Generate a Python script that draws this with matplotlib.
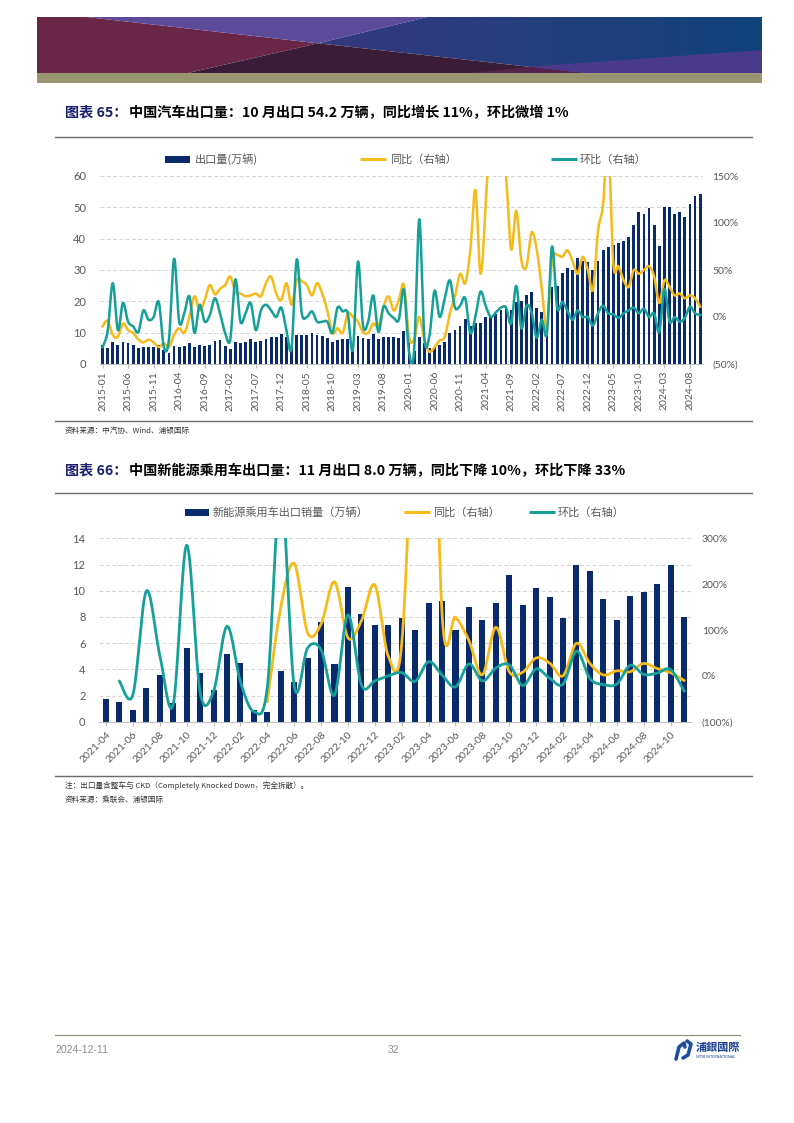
import numpy as np
import matplotlib
matplotlib.use("Agg")
import matplotlib.pyplot as plt
from matplotlib.patches import Polygon, Rectangle
from matplotlib.ticker import FuncFormatter

plt.rcParams['font.family'] = ['Lato', 'Noto Sans CJK SC', 'DejaVu Sans']
CJK = ['Noto Sans CJK SC', 'DejaVu Sans']

NAVY = '#0A2A6E'
YELLOW = '#F6BA1B'
TEAL = '#16A09A'
GREY = '#595959'

# ---------------- chart 65: China auto exports, 2015-01 .. 2024-10 ----------------
months1 = [f"{2015 + k // 12}-{k % 12 + 1:02d}" for k in range(118)]
export_vol = [
    6.0, 5.0, 7.0, 6.1, 7.0, 6.7, 6.0, 5.2, 5.5, 5.5, 5.5, 6.2,
    4.4, 3.6, 5.7, 5.4, 5.7, 6.7, 5.5, 6.2, 5.9, 6.1, 7.4, 7.8,
    5.8, 4.8, 6.9, 6.8, 7.0, 7.9, 6.9, 7.4, 8.0, 8.6, 8.6, 9.5,
    8.7, 5.6, 9.1, 9.2, 9.3, 9.8, 9.3, 8.8, 8.4, 7.1, 7.6, 7.9,
    8.1, 5.7, 9.0, 8.4, 8.0, 9.5, 8.0, 8.7, 8.7, 8.5, 8.2, 10.5,
    6.8, 4.3, 8.7, 6.6, 5.0, 5.5, 6.1, 7.1, 9.8, 10.9, 12.1, 14.4,
    12.2, 13.0, 13.2, 14.9, 15.3, 16.0, 17.2, 17.8, 17.2, 19.7, 20.1, 22.0,
    22.9, 17.8, 16.7, 12.5, 24.7, 25.0, 29.0, 30.5, 30.0, 33.7, 32.9, 32.6,
    30.0, 32.9, 36.4, 37.4, 38.0, 38.7, 39.4, 40.6, 44.4, 48.6, 48.0, 49.7,
    44.4, 37.7, 50.2, 50.2, 48.0, 48.4, 46.8, 51.0, 53.7, 54.2,
]
yoy1 = [
    -10, -4, -19, -21, -7, -14, -17, -24, -27, -24, -27, -32,
    -28, -32, -19, -12, -17, 0, 22, 7, 18, 34, 24, 30,
    34, 43, 27, 25, 22, 23, 25, 22, 36, 43, 25, 18,
    36, 13, 39, 38, 34, 23, 36, 25, 7, -17, -12, -17,
    4, 0, -5, -16, -17, -7, -10, 11, 22, 7, 18, 34,
    -21, -24, 0, -24, -37, -32, -25, -21, 4, 22, 46, 36,
    71, 135, 46, 117, 220, 240, 190, 150, 72, 113, 60, 54,
    90, 72, 30, -12, 61, 66, 64, 71, 60, 46, 64, 50,
    29, 91, 120, 190, 57, 54, 39, 32, 50, 46, 50, 54,
    43, 15, 39, 32, 23, 25, 20, 23, 20, 11,
]
mom1 = [
    -32, -15, 36, -14, 15, -5, -10, -16, 7, -3, 0, 16,
    -32, -24, 62, -5, 4, 22, -17, 13, -5, 2, 20, 4,
    -17, -24, 40, -5, 4, 15, -14, 7, 13, 7, 0, 10,
    -14, -33, 61, 4, 0, 6, -5, -5, -5, -17, 10, 6,
    4, -35, 59, -9, -5, 23, -16, 11, 4, -1, -3, 29,
    -37, -36, 104, -22, -20, 28, 0, 20, 39, 10, 12, 20,
    -17, 0, 27, 12, 0, 5, 10, 10, -7, 33, -12, 12,
    5, -22, -3, -17, 75, 10, 16, 7, -3, 7, 0, 0,
    -9, 4, 12, 4, 3, -1, 4, 7, 10, 4, 9, 0,
    4, -16, 30, -5, 0, -5, -1, 11, 4, 2,
]

# ---------------- chart 66: NEV passenger car exports, 2021-04 .. 2024-11 ----------------
months2 = [f"{2021 + (k + 3) // 12}-{(k + 3) % 12 + 1:02d}" for k in range(44)]
nev_vol = [
    1.7, 1.5, 0.9, 2.55, 3.6, 1.4, 5.65, 3.7, 2.4,
    5.2, 4.5, 0.9, 0.76, 3.87, 3.05, 4.9, 7.6, 4.4, 10.25, 8.2, 7.4,
    7.4, 7.9, 7.0, 9.08, 9.2, 7.0, 8.78, 7.8, 9.08, 11.2, 8.88, 10.18,
    9.5, 7.9, 12.0, 11.5, 9.36, 7.8, 9.6, 9.92, 10.5, 12.0, 8.0,
]
yoy2 = [np.nan] * 12 + [
    -56, 150, 245, 94, 113, 205, 83, 120, 198, 43, 70,
    680, 1090, 136, 128, 77, 2, 106, 9, 8, 39,
    28, 0, 71, 27, 2, 11, 9, 27, 16, 7, -10,
]
mom2 = [np.nan, -12, -41, 185, 45, -62, 285, -36, -34, 108, -13, -78,
        -25, 409, -22, 61, 57, -42, 133, -20, -11, 0, 7,
        -12, 31, 2, -24, 26, -11, 17, 24, -21, 15, -5, -18, 54,
        -6, -19, -18, 23, 3, 6, 14, -33]


def smooth(xs, ys, n=16):
    xs = np.asarray(xs, float)
    ys = np.asarray(ys, float)
    ok = ~np.isnan(ys)
    pts = np.column_stack([xs[ok], ys[ok]])
    out = []
    t = np.linspace(0, 1, n, endpoint=False)[:, None]
    for k in range(len(pts) - 1):
        p0 = pts[k - 1] if k > 0 else pts[k]
        p1, p2 = pts[k], pts[k + 1]
        p3 = pts[k + 2] if k + 2 < len(pts) else pts[k + 1]
        seg = 0.5 * (2 * p1 + (-p0 + p2) * t + (2 * p0 - 5 * p1 + 4 * p2 - p3) * t ** 2
                     + (-p0 + 3 * p1 - 3 * p2 + p3) * t ** 3)
        out.append(seg)
    out.append(pts[-1:])
    a = np.vstack(out)
    return a[:, 0], a[:, 1]


def pct(v, _):
    return f"({abs(v):.0f}%)" if v < 0 else f"{v:.0f}%"


def style_axes(ax, axr):
    for s in ['top', 'left', 'right']:
        ax.spines[s].set_visible(False)
        axr.spines[s].set_visible(False)
    axr.spines['bottom'].set_visible(False)
    ax.spines['bottom'].set_color('#bfbfbf')
    ax.yaxis.grid(True, ls=(0, (4, 2.5)), color='#d4d4d4', lw=0.7)
    ax.set_axisbelow(True)
    ax.set_facecolor('none')
    axr.yaxis.set_major_formatter(FuncFormatter(pct))


fig = plt.figure(figsize=(7.94, 11.23), dpi=100)

# page layer
pg = fig.add_axes([0, 0, 1, 1], zorder=0)
pg.set_xlim(0, 794)
pg.set_ylim(1123, 0)
pg.axis('off')

# header banner
C = (318, 43.3)
pg.add_patch(Polygon([(37, 17), (86.5, 17), C, (188, 73), (37, 73)], closed=True, color='#6a2647', lw=0))
pg.add_patch(Polygon([(86.5, 17), (427.5, 17), C], closed=True, color='#5c4a9b', lw=0))
right = Polygon([(427.5, 17), (762, 17), (762, 73), (585, 73), C], closed=True, color='none', lw=0)
pg.add_patch(right)
grad = pg.imshow(np.linspace(0, 1, 256)[None, :], extent=[318, 762, 73, 17], aspect='auto',
                 cmap=matplotlib.colors.LinearSegmentedColormap.from_list('b', ['#36397f', '#10437b']),
                 zorder=1)
grad.set_clip_path(right)
pg.add_patch(Polygon([C, (585, 73), (188, 73)], closed=True, color='#3b1c37', lw=0, zorder=2))
pg.add_patch(Polygon([(470, 73), (585, 73), (529, 66.7)], closed=True, color='#55224a', lw=0, zorder=2))
pg.add_patch(Polygon([(529, 66.7), (762, 50), (762, 73), (585, 73)], closed=True, color='#4a3a8c', lw=0, zorder=2))
pg.add_patch(Rectangle((37, 73), 725, 10, color='#9a9571', lw=0))

# titles and rules
for y, num, rest in [(113, "图表 65：", "中国汽车出口量：10 月出口 54.2 万辆，同比增长 11%，环比微增 1%"),
                     (470, "图表 66：", "中国新能源乘用车出口量：11 月出口 8.0 万辆，同比下降 10%，环比下降 33%")]:
    pg.text(65, y, num, color='#1b1f6e', fontsize=10.2, fontweight='bold', va='center', family=CJK)
    pg.text(129, y, rest, color='black', fontsize=10.2, fontweight='bold', va='center', family=CJK)
for y in [137, 421, 493, 776]:
    pg.plot([55, 752], [y, y], color='#6a6a6a', lw=1)

pg.text(65, 431, "资料来源：中汽协、Wind、浦银国际", fontsize=5.5, color='#333333', va='center', family=CJK)
pg.text(65, 786, "注：出口量含整车与 CKD（Completely Knocked Down，完全拆散）。", fontsize=5.5,
        color='#333333', va='center', family=CJK)
pg.text(65, 800, "资料来源：乘联会、浦银国际", fontsize=5.5, color='#333333', va='center', family=CJK)

# legends
def legend_row(y, items):
    for kind, x0, x1, tx, label in items:
        if kind == 'bar':
            pg.add_patch(Rectangle((x0, y - 3.5), x1 - x0, 7, color=NAVY, lw=0))
        else:
            pg.plot([x0, x1], [y, y], color=kind, lw=2.2, solid_capstyle='butt')
        pg.text(tx, y, label, fontsize=8, color=GREY, va='center', family=CJK)


legend_row(159, [('bar', 165, 190, 195, "出口量(万辆)"),
                 (YELLOW, 360, 386, 390, "同比（右轴）"),
                 (TEAL, 551, 577, 580, "环比（右轴）")])
legend_row(512, [('bar', 185, 209, 213, "新能源乘用车出口销量（万辆）"),
                 (YELLOW, 404, 430, 433, "同比（右轴）"),
                 (TEAL, 529, 555, 558, "环比（右轴）")])

# footer
pg.plot([55, 740], [1035, 1035], color='#8f8b73', lw=0.8)
pg.text(55, 1050, "2024-12-11", fontsize=7.5, color='#8c8c8c', va='center', family=['Liberation Sans Narrow', 'Liberation Sans'])
pg.text(393, 1050, "32", fontsize=7.5, color='#8c8c8c', va='center', ha='center', family=['Liberation Sans Narrow', 'Liberation Sans'])
pg.plot([676, 679, 684, 685], [1059, 1047, 1043, 1047], color='#1f4e9a', lw=2.6, solid_capstyle='round')
pg.plot([683, 688, 691, 687], [1058, 1055, 1044, 1041], color='#1f4e9a', lw=2.6, solid_capstyle='round')
pg.text(696, 1047, "浦銀國際", fontsize=8, color='#1d3f8f', va='center', fontweight='bold',
        family=['Noto Sans CJK TC', 'DejaVu Sans'])
pg.text(696, 1056.5, "SPDB INTERNATIONAL", fontsize=2.6, color='#1d3f8f', va='center')

# ---------------- chart 65 axes ----------------
ax1 = fig.add_axes([100 / 794, 1 - 364 / 1123, 602.7 / 794, 188 / 1123], zorder=2)
x1 = np.arange(len(export_vol))
ax1.bar(x1, export_vol, width=0.55, color=NAVY, zorder=2)
ax1.set_xlim(-0.5, len(export_vol) - 0.5)
ax1.set_ylim(0, 60)
ax1.set_yticks(range(0, 61, 10))
ax1.set_xticks(x1[::5])
ax1.set_xticklabels(months1[::5], rotation=90, fontsize=7.5, color=GREY)
ax1.tick_params(axis='x', length=3, color='#bfbfbf', pad=2)
ax1.tick_params(axis='y', length=0, pad=10, labelsize=8, labelcolor=GREY)
ax1r = ax1.twinx()
ax1r.set_ylim(-50, 150)
ax1r.set_yticks(range(-50, 151, 50))
ax1r.tick_params(axis='y', length=0, pad=7, labelsize=7.5, labelcolor=GREY)
style_axes(ax1, ax1r)
sx, sy = smooth(x1, yoy1)
ax1r.plot(sx, sy, color=YELLOW, lw=1.8, zorder=3)
sx, sy = smooth(x1, mom1)
ax1r.plot(sx, sy, color=TEAL, lw=1.8, zorder=4)

# ---------------- chart 66 axes ----------------
ax2 = fig.add_axes([99.3 / 794, 1 - 721.7 / 1123, 591.4 / 794, 183.4 / 1123], zorder=2)
x2 = np.arange(len(nev_vol))
ax2.bar(x2, nev_vol, width=0.45, color=NAVY, zorder=2)
ax2.set_xlim(-0.5, len(nev_vol) - 0.5)
ax2.set_ylim(0, 14)
ax2.set_yticks(range(0, 15, 2))
ax2.set_xticks(x2[::2])
ax2.set_xticklabels(months2[::2], rotation=45, ha='right', va='top', rotation_mode='anchor',
                    fontsize=7.5, color=GREY)
ax2.tick_params(axis='x', length=3, color='#bfbfbf', pad=3)
ax2.tick_params(axis='y', length=0, pad=10, labelsize=8, labelcolor=GREY)
ax2r = ax2.twinx()
ax2r.set_ylim(-100, 300)
ax2r.set_yticks(range(-100, 301, 100))
ax2r.tick_params(axis='y', length=0, pad=8, labelsize=7.5, labelcolor=GREY)
style_axes(ax2, ax2r)
sx, sy = smooth(x2, yoy2)
ax2r.plot(sx, sy, color=YELLOW, lw=2.0, zorder=3)
sx, sy = smooth(x2, mom2)
ax2r.plot(sx, sy, color=TEAL, lw=2.0, zorder=4)

fig.savefig("out.png", dpi=100)
plt.close(fig)
